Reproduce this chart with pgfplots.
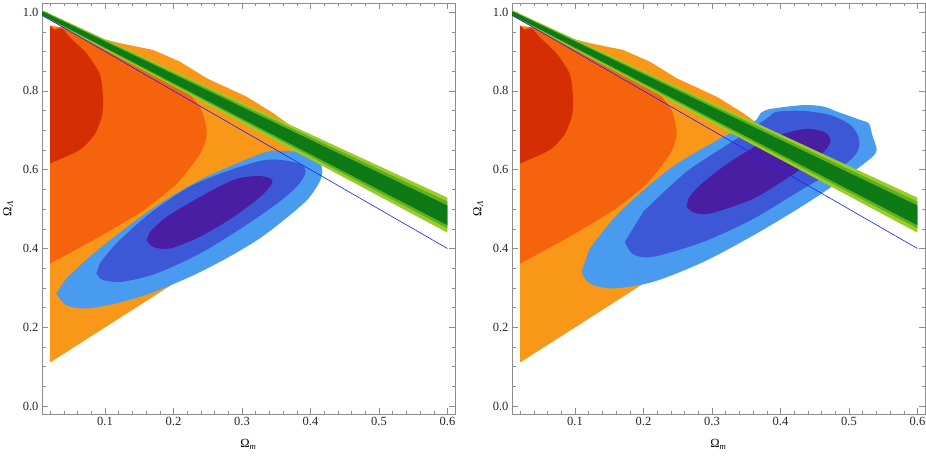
\documentclass[border=0pt]{standalone}
\usepackage{fontspec}
\setmainfont{Liberation Serif}
\usepackage{pgfplots}
\usepackage{pgfplotstable}
\pgfplotsset{compat=1.18}

\definecolor{dred}{RGB}{214,46,4}
\definecolor{morange}{RGB}{245,99,12}
\definecolor{lorange}{RGB}{249,151,24}
\definecolor{lblue}{RGB}{73,155,240}
\definecolor{mblue}{RGB}{60,88,214}
\definecolor{dpurple}{RGB}{73,30,162}
\definecolor{lgreen}{RGB}{156,204,40}
\definecolor{mgreen}{RGB}{95,175,35}
\definecolor{dgreen}{RGB}{14,122,21}
\definecolor{flatline}{RGB}{30,30,255}
\definecolor{framegray}{RGB}{140,140,140}

% orange contours (same in both panels)
\pgfplotstableread{
x y
0.020 0.111
0.120 0.222
0.200 0.311
0.290 0.412
0.350 0.480
0.400 0.540
0.412 0.580
0.405 0.625
0.390 0.675
0.376 0.705
0.346 0.743
0.307 0.785
0.2485 0.832
0.2095 0.874
0.170 0.904
0.122 0.921
0.090 0.935
0.060 0.950
0.035 0.962
0.020 0.966
}\orA
\pgfplotstableread{
x y
0.020 0.362
0.092 0.430
0.156 0.497
0.205 0.565
0.239 0.641
0.2485 0.692
0.241 0.751
0.222 0.795
0.215 0.805
0.150 0.865
0.100 0.912
0.060 0.950
0.035 0.962
0.026 0.958
0.020 0.964
}\orB
\pgfplotstableread{
x y
0.020 0.616
0.063 0.650
0.085 0.690
0.096 0.740
0.097 0.789
0.092 0.844
0.073 0.895
0.048 0.937
0.038 0.958
0.030 0.957
0.026 0.955
0.022 0.963
0.020 0.964
}\orC

% green band
\pgfplotstableread{
x y
0.008 1.005
0.600 0.529
0.600 0.440
0.008 0.990
}\grA
\pgfplotstableread{
x y
0.008 1.0035
0.600 0.519
0.600 0.451
0.008 0.9915
}\grB
\pgfplotstableread{
x y
0.008 1.002
0.600 0.509
0.600 0.459
0.008 0.993
}\grC

% blue contours, left panel
\pgfplotstableread{
x y
0.0288 0.286
0.0435 0.256
0.0728 0.248
0.1167 0.261
0.1655 0.286
0.224 0.328
0.273 0.371
0.322 0.421
0.361 0.472
0.395 0.523
0.412 0.565
0.417 0.591
0.4145 0.616
0.400 0.635
0.380 0.645
0.355 0.648
0.335 0.645
0.2925 0.616
0.2388 0.574
0.180 0.514
0.1264 0.447
0.0776 0.379
0.0435 0.324
}\blA
\pgfplotstableread{
x y
0.0874 0.337
0.0971 0.320
0.1264 0.316
0.1753 0.337
0.2388 0.3875
0.302 0.455
0.351 0.514
0.380 0.557
0.3926 0.591
0.3877 0.612
0.361 0.624
0.3315 0.624
0.2827 0.599
0.224 0.557
0.1655 0.489
0.1167 0.413
0.0923 0.362
}\blB
\pgfplotstableread{
x y
0.1607 0.421
0.1704 0.404
0.1948 0.400
0.2388 0.430
0.2875 0.480
0.3266 0.531
0.3438 0.565
0.3413 0.578
0.3218 0.584
0.2875 0.574
0.2388 0.531
0.190 0.480
0.1655 0.442
}\blC

% blue contours, right panel
\pgfplotstableread{
x y
0.1094 0.341
0.1216 0.311
0.1557 0.299
0.2143 0.3155
0.2875 0.366
0.361 0.434
0.434 0.510
0.4926 0.578
0.5317 0.629
0.5405 0.650
0.534 0.688
0.529 0.7175
0.517 0.726
0.483 0.747
0.463 0.760
0.434 0.764
0.385 0.754
0.3706 0.743
0.361 0.7215
0.312 0.679
0.2388 0.603
0.1655 0.493
0.1216 0.400
}\brA
\pgfplotstableread{
x y
0.1728 0.417
0.185 0.385
0.2143 0.379
0.2875 0.417
0.361 0.476
0.434 0.5525
0.4926 0.612
0.512 0.645
0.5146 0.679
0.5024 0.713
0.473 0.7385
0.434 0.749
0.395 0.747
0.380 0.730
0.3365 0.679
0.263 0.595
0.1997 0.493
}\brB
\pgfplotstableread{
x y
0.263 0.506
0.273 0.4915
0.2973 0.489
0.361 0.527
0.4243 0.595
0.463 0.645
0.473 0.675
0.463 0.696
0.434 0.703
0.385 0.679
0.3266 0.620
0.2827 0.561
0.2656 0.527
}\brC

\pgfplotsset{
  panel/.style={
    scale only axis, width=413pt, height=411pt,
    xmin=0.008, xmax=0.611, ymin=-0.02, ymax=1.023,
    axis line style={draw=framegray},
    tick style={draw=framegray, line width=0.5pt},
    tick align=inside,
    major tick length=6pt, minor tick length=3.5pt,
    xtick={0.1,0.2,0.3,0.4,0.5,0.6},
    minor xtick={0.02,0.04,0.06,0.08,0.12,0.14,0.16,0.18,0.22,0.24,0.26,0.28,0.32,0.34,0.36,0.38,0.42,0.44,0.46,0.48,0.52,0.54,0.56,0.58},
    ytick={0,0.2,0.4,0.6,0.8,1.0},
    minor ytick={0.05,0.1,0.15,0.25,0.3,0.35,0.45,0.5,0.55,0.65,0.7,0.75,0.85,0.9,0.95},
    xticklabel style={/pgf/number format/.cd, fixed, fixed zerofill, precision=1},
    yticklabel style={/pgf/number format/.cd, fixed, fixed zerofill, precision=1},
    /pgf/number format/assume math mode=true,
    tick label style={font=\fontsize{12.5}{14}\selectfont, text=black!85},
    xlabel={Ω\textsubscript{\textit{m}}},
    ylabel={Ω\textsubscript{\textit{Λ}}},
    xlabel style={at={(axis description cs:0.5,0)}, anchor=center, yshift=-30pt, font=\fontsize{12.5}{14}\selectfont},
    ylabel style={at={(axis description cs:-0.082,0.5)}, anchor=center, font=\fontsize{12.5}{14}\selectfont},
  }
}

\newcommand{\orangelayers}{
  \addplot[fill=lorange, draw=none] table {\orA} -- cycle;
  \addplot[fill=morange, draw=none, smooth, tension=0.4] table {\orB} -- cycle;
  \addplot[fill=dred, draw=none, smooth, tension=0.4] table {\orC} -- cycle;
}
\newcommand{\greenlayers}{
  \addplot[fill=lgreen, draw=none] table {\grA} -- cycle;
  \addplot[fill=mgreen, draw=none] table {\grB} -- cycle;
  \addplot[fill=dgreen, draw=none] table {\grC} -- cycle;
  \addplot[flatline, line width=0.6pt] coordinates {(0,1) (0.6,0.4)};
}

\begin{document}
\begin{tikzpicture}
\useasboundingbox (0,0) rectangle (926pt,459pt);

\begin{axis}[panel, at={(42pt,45pt)}, anchor=south west]
  \orangelayers
  \addplot[fill=lblue, draw=none, smooth] table {\blA} -- cycle;
  \addplot[fill=mblue, draw=none, smooth] table {\blB} -- cycle;
  \addplot[fill=dpurple, draw=none, smooth] table {\blC} -- cycle;
  \greenlayers
\end{axis}

\begin{axis}[panel, at={(512pt,45pt)}, anchor=south west]
  \orangelayers
  \addplot[fill=lblue, draw=none, smooth] table {\brA} -- cycle;
  \addplot[fill=mblue, draw=none, smooth] table {\brB} -- cycle;
  \addplot[fill=dpurple, draw=none, smooth] table {\brC} -- cycle;
  \greenlayers
\end{axis}
\end{tikzpicture}
\end{document}
